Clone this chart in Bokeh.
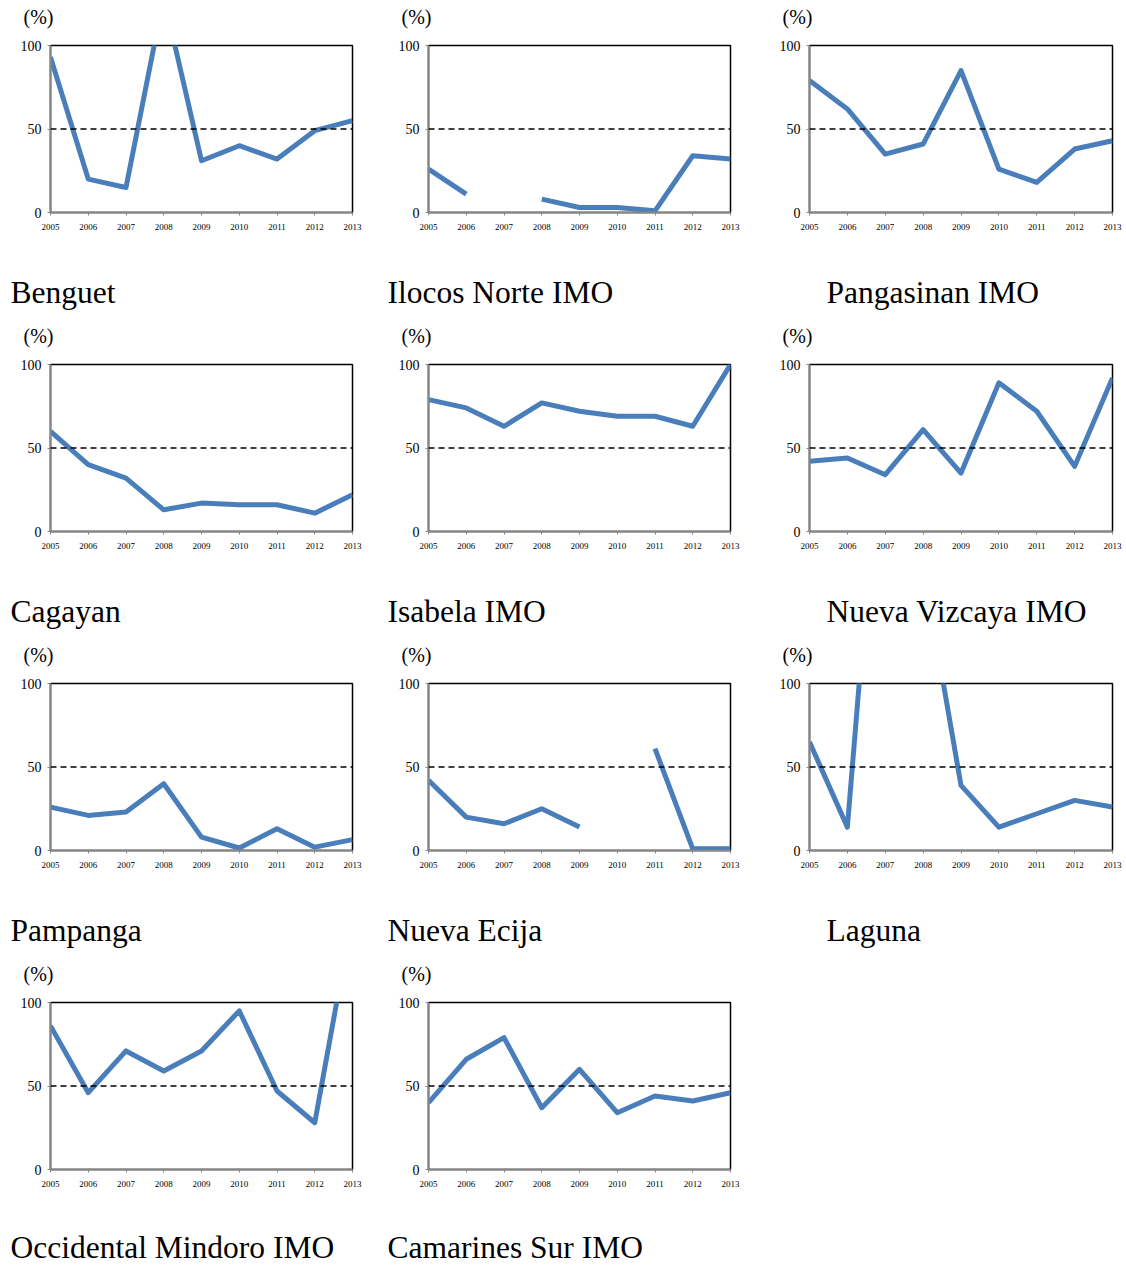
from bokeh.plotting import figure
from bokeh.models import Range1d, FixedTicker, Title, Span, LinearAxis
from bokeh.layouts import row, column
from bokeh.embed import file_html
from bokeh.resources import INLINE

nan = float("nan")

years = [2005, 2006, 2007, 2008, 2009, 2010, 2011, 2012, 2013]
year_labels = ["2005", "2006", "2007", "2008", "2009", "2010", "2011", "2012", "2013"]
y_ticks = [0, 50, 100]
y_tick_labels = ["0", "50", "100"]
reference_level = 50
unit_label = "(%)"

benguet = [93, 20, 15, 129, 31, 40, 32, 49, 55]
ilocos_norte = [26, 11, nan, 8, 3, 3, 1, 34, 32]
pangasinan = [79, 62, 35, 41, 85, 26, 18, 38, 43]
cagayan = [60, 40, 32, 13, 17, 16, 16, 11, 22]
isabela = [79, 74, 63, 77, 72, 69, 69, 63, 100]
nueva_vizcaya = [42, 44, 34, 61, 35, 89, 72, 39, 92]
pampanga = [26, 21, 23, 40, 8, 1.5, 13, 2, 6.5]
nueva_ecija = [42, 20, 16, 25, 14, nan, 61, 1, 1]
laguna = [65, 14, 290, 170, 39, 14, 22, 30, 26]
occidental_mindoro = [86, 46, 71, 59, 71, 95, 47, 28, 152]
camarines_sur = [40, 66, 79, 37, 60, 34, 44, 41, 46]

names = ["Benguet", "Ilocos Norte IMO", "Pangasinan IMO",
         "Cagayan", "Isabela IMO", "Nueva Vizcaya IMO",
         "Pampanga", "Nueva Ecija", "Laguna",
         "Occidental Mindoro IMO", "Camarines Sur IMO"]
series = [benguet, ilocos_norte, pangasinan,
          cagayan, isabela, nueva_vizcaya,
          pampanga, nueva_ecija, laguna,
          occidental_mindoro, camarines_sur]

FONT = "Liberation Serif"
LINE_COLOR = "#4A7EBB"

# per-column geometry: (figure width, left border, frame width, name x offset)
col_geom = [
    (386, 50, 302, -40),
    (381, 42, 302, -41),
    (359, 42, 303, 17),
]
ROW_H = 319
LAST_H = 309
TOP_B = 45
FRAME_H = 167


def spacer_axis(size):
    # an axis with one invisible tick and no label, used only to reserve room
    return LinearAxis(ticker=FixedTicker(ticks=[years[4]]), axis_line_alpha=0,
                      major_tick_line_alpha=0, minor_tick_line_alpha=0,
                      major_tick_in=0, major_tick_out=size,
                      major_label_standoff=0,
                      major_label_overrides={years[4]: ""},
                      major_label_text_font_size="1px",
                      major_label_text_alpha=0)


def make_panel(name, values, col, last_row):
    fw, bl, frame_w, name_dx = col_geom[col]
    h = LAST_H if last_row else ROW_H
    p = figure(width=fw, height=h, output_backend="svg", toolbar_location=None,
               x_range=Range1d(years[0], years[-1]),
               y_range=Range1d(y_ticks[0], y_ticks[-1]),
               min_border_left=bl, min_border_right=fw - bl - frame_w,
               min_border_top=TOP_B, min_border_bottom=h - TOP_B - FRAME_H,
               background_fill_color="white", border_fill_color="white")
    p.xgrid.visible = False
    p.ygrid.visible = False
    p.outline_line_color = "black"
    p.outline_line_width = 1.5

    p.xaxis.ticker = FixedTicker(ticks=years)
    p.xaxis.major_label_overrides = {y: l for y, l in zip(years, year_labels)}
    p.yaxis.ticker = FixedTicker(ticks=y_ticks)
    p.yaxis.major_label_overrides = {y: l for y, l in zip(y_ticks, y_tick_labels)}
    for ax in (p.xaxis, p.yaxis):
        ax.axis_line_color = "#868686"
        ax.axis_line_width = 2
        ax.major_tick_line_color = "#868686"
        ax.major_tick_in = 0
        ax.major_tick_out = 3
        ax.minor_tick_line_color = None
        ax.major_label_text_font = FONT
        ax.major_label_text_color = "black"
    p.xaxis.major_label_text_font_size = "9px"
    p.xaxis.major_label_standoff = 8
    p.yaxis.major_label_text_font_size = "14px"
    p.yaxis.major_label_standoff = 6

    p.add_layout(Span(location=reference_level, dimension="width",
                      line_color="black", line_width=1.5, line_dash="6 4"))
    p.line(years, values, line_color=LINE_COLOR, line_width=5, line_join="round")

    # "(%)" above the frame
    p.add_layout(spacer_axis(18), "above")
    p.add_layout(Title(text=unit_label, align="left", offset=-27, standoff=0,
                       vertical_align="bottom",
                       text_font=FONT, text_font_size="20px",
                       text_font_style="normal", text_color="black"), "above")
    # region name below the axis
    p.add_layout(spacer_axis(38 if last_row else 40), "below")
    p.add_layout(Title(text=name, align="left", offset=name_dx, standoff=0,
                       vertical_align="bottom",
                       text_font=FONT, text_font_size="31.5px",
                       text_font_style="normal", text_color="black"), "below")
    return p


cols = [[], [], []]
for i, (name, vals) in enumerate(zip(names, series)):
    r, c = divmod(i, 3)
    cols[c].append(make_panel(name, vals, c, r == 3))

layout = row([column(cc, spacing=0) for cc in cols], spacing=0)

with open("out.html", "w") as f:
    f.write(file_html(layout, INLINE))
